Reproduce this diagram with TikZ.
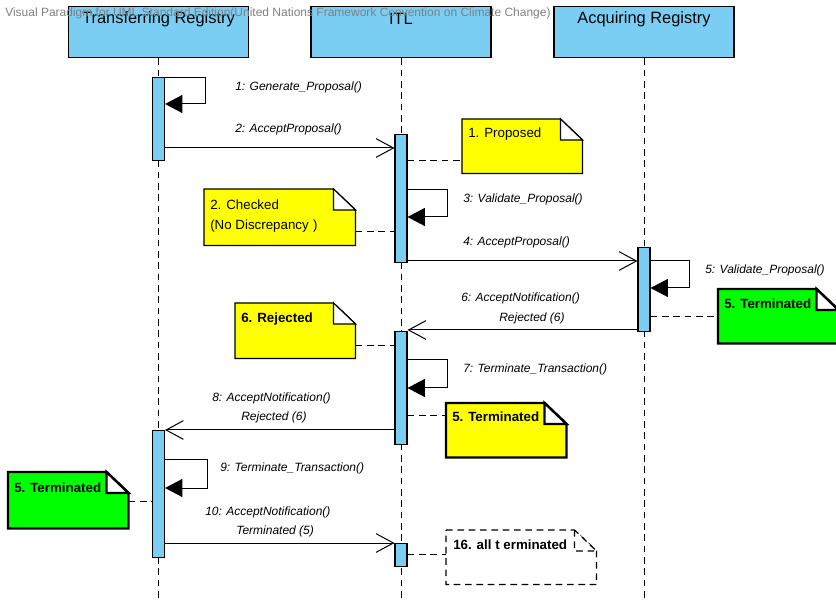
\documentclass[tikz,border=0pt]{standalone}
\usepackage{fontspec}
\setmainfont{Liberation Sans}
\usetikzlibrary{arrows.meta,calc}

\pgfdeclarelayer{notebg}
\pgfsetlayers{notebg,main}

\definecolor{lifeblue}{HTML}{7ACEF4}
\definecolor{noteyellow}{HTML}{FFFF00}
\definecolor{notegreen}{HTML}{00FF00}

\tikzset{
  head/.style={draw, line width=0.9pt, fill=lifeblue, minimum width=180*0.75pt,
    minimum height=51*0.75pt, anchor=north, inner sep=0pt},
  headtext/.style={font=\fontsize{12.3pt}{14pt}\selectfont, inner sep=0pt},
  lifeline/.style={line width=0.75pt, dash pattern=on 5pt off 3.5pt},
  actbar/.style={draw, line width=0.8pt, fill=lifeblue, minimum width=12*0.75pt,
    anchor=north, inner sep=0pt},
  msg/.style={line width=0.75pt,
    -{Straight Barb[length=13pt,width=14pt,line width=0.75pt]}},
  selfmsg/.style={line width=0.75pt, -{Triangle[length=13pt,width=13.5pt]}},
  lbl/.style={font=\fontsize{9pt}{11pt}\selectfont\itshape, inner sep=0pt, anchor=west},
  notebox/.style={anchor=north west, inner sep=0pt},
  notetext/.style={font=\fontsize{10pt}{12pt}\selectfont, inner sep=0pt, anchor=west},
  noteboldtext/.style={font=\fontsize{10pt}{12pt}\selectfont\bfseries, inner sep=0pt, anchor=west},
  thinnote/.style={line width=0.9pt},
  thicknote/.style={line width=1.8pt},
  dashnote/.style={line width=0.9pt, dash pattern=on 5pt off 3.5pt},
  anchorline/.style={line width=0.75pt, dash pattern=on 5pt off 3.5pt},
}

% note outline with a folded top-right corner: body behind, fold on top
\newcommand\foldednote[3]{%
  \begin{pgfonlayer}{notebg}
    \draw[#3, fill=#2, line join=miter]
      (#1.north west) -- ($(#1.north east)+(-22,0)$) -- ($(#1.north east)+(0,21)$)
      -- (#1.south east) -- (#1.south west) -- cycle;
  \end{pgfonlayer}
  \draw[#3, fill=white, line join=miter]
    ($(#1.north east)+(-22,0)$) -- ($(#1.north east)+(-22,21)$)
    -- ($(#1.north east)+(0,21)$) -- cycle;
}

\begin{document}
\begin{tikzpicture}[x=0.75pt, y=-0.75pt]
\useasboundingbox (0,0) rectangle (836,602);
\coordinate (bottom) at (0,602);

% lifeline heads
\node[head] (tr) at (158.5,6) {};
\node[head] (itl) at (401,6) {};
\node[head] (acq) at (644,6) {};
\node[headtext] (trt) at (158.5,19) {Transferring Registry};
\node[headtext] (itlt) at (401,19) {ITL};
\node[headtext] (acqt) at (644,19) {Acquiring Registry};

% lifelines
\draw[lifeline] (tr.south) -- (tr.south |- bottom);
\draw[lifeline] (itl.south) -- (itl.south |- bottom);
\draw[lifeline] (acq.south) -- (acq.south |- bottom);

% activation bars
\node[actbar, minimum height=83*0.75pt] (b1) at (158.5,77) {};
\node[actbar, minimum height=128*0.75pt] (i1) at (401,134) {};
\node[actbar, minimum height=84*0.75pt] (a1) at (644,247) {};
\node[actbar, minimum height=113*0.75pt] (i2) at (401,331) {};
\node[actbar, minimum height=127*0.75pt] (t2) at (158.5,430) {};
\node[actbar, minimum height=23*0.75pt] (i3) at (401,543) {};

% message rows
\coordinate (s1a) at (0,78);   \coordinate (s1b) at (0,104);
\coordinate (m2) at (0,148);
\coordinate (s3a) at (0,190);  \coordinate (s3b) at (0,217);
\coordinate (m4) at (0,261);
\coordinate (s5a) at (0,261);  \coordinate (s5b) at (0,288);
\coordinate (m6) at (0,330);
\coordinate (s7a) at (0,360);  \coordinate (s7b) at (0,388);
\coordinate (m8) at (0,430);
\coordinate (s9a) at (0,459);  \coordinate (s9b) at (0,488);
\coordinate (m10) at (0,543);

% messages
\draw[selfmsg] (b1.east |- s1a) -- ++(40,0) |- (b1.east |- s1b);
\draw[msg] (b1.east |- m2) -- (i1.west |- m2);
\draw[selfmsg] (i1.east |- s3a) -- ++(40,0) |- (i1.east |- s3b);
\draw[msg] (i1.east |- m4) -- (a1.west |- m4);
\draw[selfmsg] (a1.east |- s5a) -- ++(39,0) |- (a1.east |- s5b);
\draw[msg] (a1.west |- m6) -- (i2.east |- m6);
\draw[selfmsg] (i2.east |- s7a) -- ++(40,0) |- (i2.east |- s7b);
\draw[msg] (i2.west |- m8) -- (t2.east |- m8);
\draw[selfmsg] (t2.east |- s9a) -- ++(42,0) |- (t2.east |- s9b);
\draw[msg] (t2.east |- m10) -- (i3.west |- m10);

% message labels
\node[lbl] (l1) at (235,87) {1: Generate\_Proposal()};
\node[lbl] (l2) at (235,129) {2: AcceptProposal()};
\node[lbl] (l3) at (463,199) {3: Validate\_Proposal()};
\node[lbl] (l4) at (463,242) {4: AcceptProposal()};
\node[lbl] (l5) at (705,270) {5: Validate\_Proposal()};
\node[lbl] (l6a) at (461,298) {6: AcceptNotification()};
\node[lbl] (l6b) at (499,318) {Rejected (6)};
\node[lbl] (l7) at (463,369) {7: Terminate\_Transaction()};
\node[lbl] (l8a) at (212,398) {8: AcceptNotification()};
\node[lbl] (l8b) at (241,417) {Rejected (6)};
\node[lbl] (l9) at (220,468) {9: Terminate\_Transaction()};
\node[lbl] (l10a) at (205,512) {10: AcceptNotification()};
\node[lbl] (l10b) at (236,531) {Terminated (5)};

% notes
\node[notebox, minimum width=120*0.75pt, minimum height=54*0.75pt] (n1) at (462,119) {};
\node[notetext] (n1t) at (468,134) {1. Proposed};
\foldednote{n1}{noteyellow}{thinnote}

\node[notebox, minimum width=151*0.75pt, minimum height=56*0.75pt] (n2) at (204,189) {};
\node[notetext] (n2t) at (210,205) {2. Checked};
\node[notetext] (n2u) at (210,226) {(No Discrepancy\,\,)};
\foldednote{n2}{noteyellow}{thinnote}

\node[notebox, minimum width=120*0.75pt, minimum height=54*0.75pt] (n5g) at (718,289) {};
\node[noteboldtext] (n5gt) at (724,304) {5. Terminated};
\foldednote{n5g}{notegreen}{thicknote}

\node[notebox, minimum width=120*0.75pt, minimum height=55*0.75pt] (n6) at (235,303) {};
\node[noteboldtext] (n6t) at (241,319) {6. Rejected};
\foldednote{n6}{noteyellow}{thinnote}

\node[notebox, minimum width=120*0.75pt, minimum height=54*0.75pt] (n5y) at (446,403) {};
\node[noteboldtext] (n5yt) at (452,417) {5. Terminated};
\foldednote{n5y}{noteyellow}{thicknote}

\node[notebox, minimum width=120*0.75pt, minimum height=56*0.75pt] (n5l) at (8,472) {};
\node[noteboldtext] (n5lt) at (14,488) {5. Terminated};
\foldednote{n5l}{notegreen}{thicknote}

\node[notebox, minimum width=150*0.75pt, minimum height=54*0.75pt] (n16) at (446,530) {};
\node[noteboldtext] (n16t) at (453,545) {16. all t erminated};
\foldednote{n16}{white}{dashnote}

% note anchors
\coordinate (c1) at (0,161);
\coordinate (c2) at (0,232);
\coordinate (c5g) at (0,317);
\coordinate (c6) at (0,346);
\coordinate (c5y) at (0,416);
\coordinate (c5l) at (0,501);
\coordinate (c16) at (0,554);
\draw[anchorline] (i1.east |- c1) -- (n1.west |- c1);
\draw[anchorline] (n2.east |- c2) -- (i1.west |- c2);
\draw[anchorline] (a1.east |- c5g) -- (n5g.west |- c5g);
\draw[anchorline] (n6.east |- c6) -- (i2.west |- c6);
\draw[anchorline] (i2.east |- c5y) -- (n5y.west |- c5y);
\draw[anchorline] (n5l.east |- c5l) -- (t2.west |- c5l);
\draw[anchorline] (i3.east |- c16) -- (n16.west |- c16);

% edition banner
\node[anchor=west, inner sep=0pt, text=black!50, font=\fontsize{9pt}{10pt}\selectfont]
  (banner) at (5,13) {Visual Paradigm for UML Standard Edition(United Nations Framework Convention on Climate Change)};
\end{tikzpicture}
\end{document}
